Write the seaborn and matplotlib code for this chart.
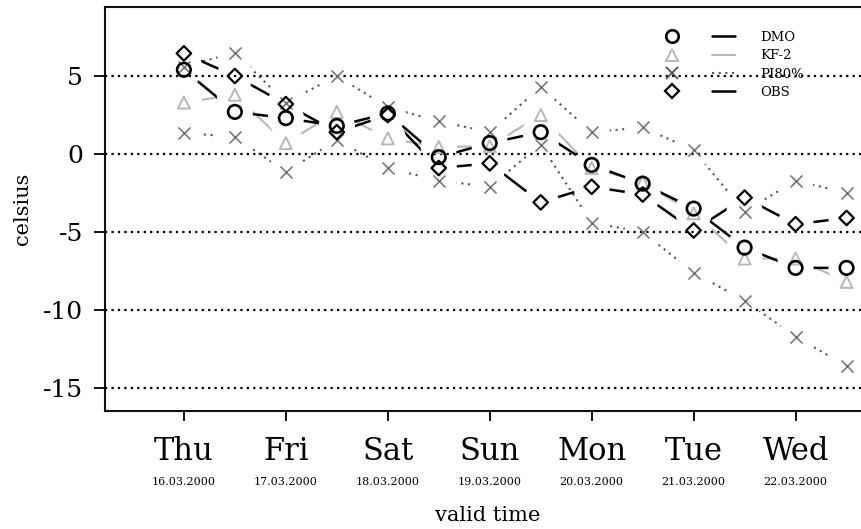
import numpy as np
import pandas as pd
import matplotlib
matplotlib.use("Agg")
import matplotlib.pyplot as plt
from matplotlib.lines import Line2D
from matplotlib.legend_handler import HandlerTuple
import seaborn as sns

# Forecast valid time in days after Thursday 00 UTC (12-hourly steps)
valid_day = [0.0, 0.5, 1.0, 1.5, 2.0, 2.5, 3.0, 3.5, 4.0, 4.5, 5.0, 5.5, 6.0, 6.5]

day_names = ["Thu", "Fri", "Sat", "Sun", "Mon", "Tue", "Wed"]
day_dates = ["16.03.2000", "17.03.2000", "18.03.2000", "19.03.2000",
             "20.03.2000", "21.03.2000", "22.03.2000"]

# Temperatures (celsius)
dmo = [5.4, 2.7, 2.3, 1.8, 2.6, -0.2, 0.7, 1.4, -0.7, -1.9, -3.5, -6.0, -7.3, -7.3]
kf2 = [3.3, 3.8, 0.7, 2.7, 1.0, 0.45, 0.5, 2.5, -0.9, -1.8, -3.8, -6.7, -6.7, -8.2]
pi80_low = [1.35, 1.1, -1.15, 0.9, -0.9, -1.7, -2.1, 0.6, -4.4, -5.0, -7.6, -9.4, -11.7, -13.6]
pi80_high = [5.6, 6.5, 3.3, 5.0, 3.0, 2.1, 1.4, 4.3, 1.4, 1.7, 0.25, -3.7, -1.7, -2.5]
obs = [6.45, 5.0, 3.2, 1.4, 2.5, -0.9, -0.6, -3.1, -2.1, -2.6, -4.9, -2.8, -4.5, -4.1]

sns.set_style("ticks")
plt.rcParams["font.family"] = ["DejaVu Serif"]
plt.rcParams["text.color"] = "black"
plt.rcParams["axes.labelcolor"] = "black"
plt.rcParams["xtick.color"] = "black"
plt.rcParams["ytick.color"] = "black"

fig = plt.figure(figsize=(8.61, 5.29), dpi=100)
ax = fig.add_axes([105 / 861, 118 / 529, 1 - 105 / 861 + 0.01, (411 - 7) / 529])

# dotted reference lines (kept above the white gaps so they stay unbroken)
for yv in [5, 0, -5, -10, -15]:
    ax.axhline(yv, color="black", lw=1.6, ls=(0, (1, 1.9)), zorder=3.5)

GRAY_KF = "#b8b8b8"
GRAY_PI = "#555555"

series = [
    ("PI80%", pi80_low, dict(color=GRAY_PI, lw=1.5, ls=(0, (1, 2.2)))),
    ("PI80%", pi80_high, dict(color=GRAY_PI, lw=1.5, ls=(0, (1, 2.2)))),
    ("KF-2", kf2, dict(color=GRAY_KF, lw=1.5, ls="-")),
    ("DMO", dmo, dict(color="black", lw=1.8, ls="-")),
    ("OBS", obs, dict(color="black", lw=1.8, ls="-")),
]

# connecting lines
for name, vals, st in series:
    df = pd.DataFrame({"day": valid_day, "temp": vals})
    sns.lineplot(data=df, x="day", y="temp", ax=ax, estimator=None, sort=False,
                 color=st["color"], lw=st["lw"], linestyle=st["ls"], zorder=2)

# white gaps around the plotting symbols
for name, vals, st in series:
    ax.scatter(valid_day, vals, s=680, marker="o", color="white",
               edgecolors="none", linewidths=0, zorder=3)

# plotting symbols
ax.scatter(valid_day, pi80_low, s=75, marker="x", color="#707070", lw=1.1, zorder=4)
ax.scatter(valid_day, pi80_high, s=75, marker="x", color="#707070", lw=1.1, zorder=4)
ax.scatter(valid_day, kf2, s=75, marker="^", facecolors="none",
           edgecolors=GRAY_KF, lw=1.4, zorder=4)
ax.scatter(valid_day, dmo, s=95, marker="o", facecolors="none",
           edgecolors="black", lw=1.9, zorder=5)
ax.scatter(valid_day, obs, s=55, marker="D", facecolors="none",
           edgecolors="black", lw=1.6, zorder=5)

# axes
day_per_px = 1 / 100.8
ax.set_xlim(-78 * day_per_px, (861 - 183) * day_per_px)
ax.set_ylim(-(411 - 154) / 15.6, (154 - 7) / 15.6)
ax.set_xticks(range(len(day_names)))
ax.set_xticklabels(day_names, fontsize=22)
ax.set_yticks([5, 0, -5, -10, -15])
ax.set_yticklabels(["5", "0", "-5", "-10", "-15"], fontsize=18)
ax.tick_params(axis="x", length=7, width=1.3, pad=11)
ax.tick_params(axis="y", length=8, width=1.3, pad=8)
for sp in ["left", "bottom", "top"]:
    ax.spines[sp].set_linewidth(1.5)
    ax.spines[sp].set_color("#111111")
ax.spines["right"].set_visible(False)

for i, d in enumerate(day_dates):
    ax.text(i, -0.176, d, transform=ax.get_xaxis_transform(), ha="center",
            va="center", fontsize=8)

ax.set_xlabel("valid time", fontsize=15, labelpad=28)
ax.set_ylabel("celsius", fontsize=15, labelpad=8)

# legend: symbol, line sample, label
handles = [
    (Line2D([], [], marker="o", ls="none", mfc="none", mec="black", ms=9, mew=1.9),
     Line2D([], [], color="black", lw=1.8)),
    (Line2D([], [], marker="^", ls="none", mfc="none", mec=GRAY_KF, ms=8.5, mew=1.4),
     Line2D([], [], color=GRAY_KF, lw=1.5)),
    (Line2D([], [], marker="x", ls="none", mec="#505050", ms=9, mew=1.3),
     Line2D([], [], color=GRAY_PI, lw=1.5, ls=(0, (1, 2.2)))),
    (Line2D([], [], marker="D", ls="none", mfc="none", mec="black", ms=7, mew=1.6),
     Line2D([], [], color="black", lw=1.8)),
]
labels = ["DMO", "KF-2", "PI80%", "OBS"]
leg = ax.legend(handles, labels, handler_map={tuple: HandlerTuple(ndivide=None, pad=2.2)},
                loc="upper left", bbox_to_anchor=(660 / 861, 1 - 31 / 529),
                bbox_transform=fig.transFigure, frameon=False, fontsize=9.5,
                handlelength=5.7, handletextpad=1.9, labelspacing=0.4,
                borderpad=0, borderaxespad=0)
leg.set_zorder(6)

fig.savefig("out.png", dpi=100)
